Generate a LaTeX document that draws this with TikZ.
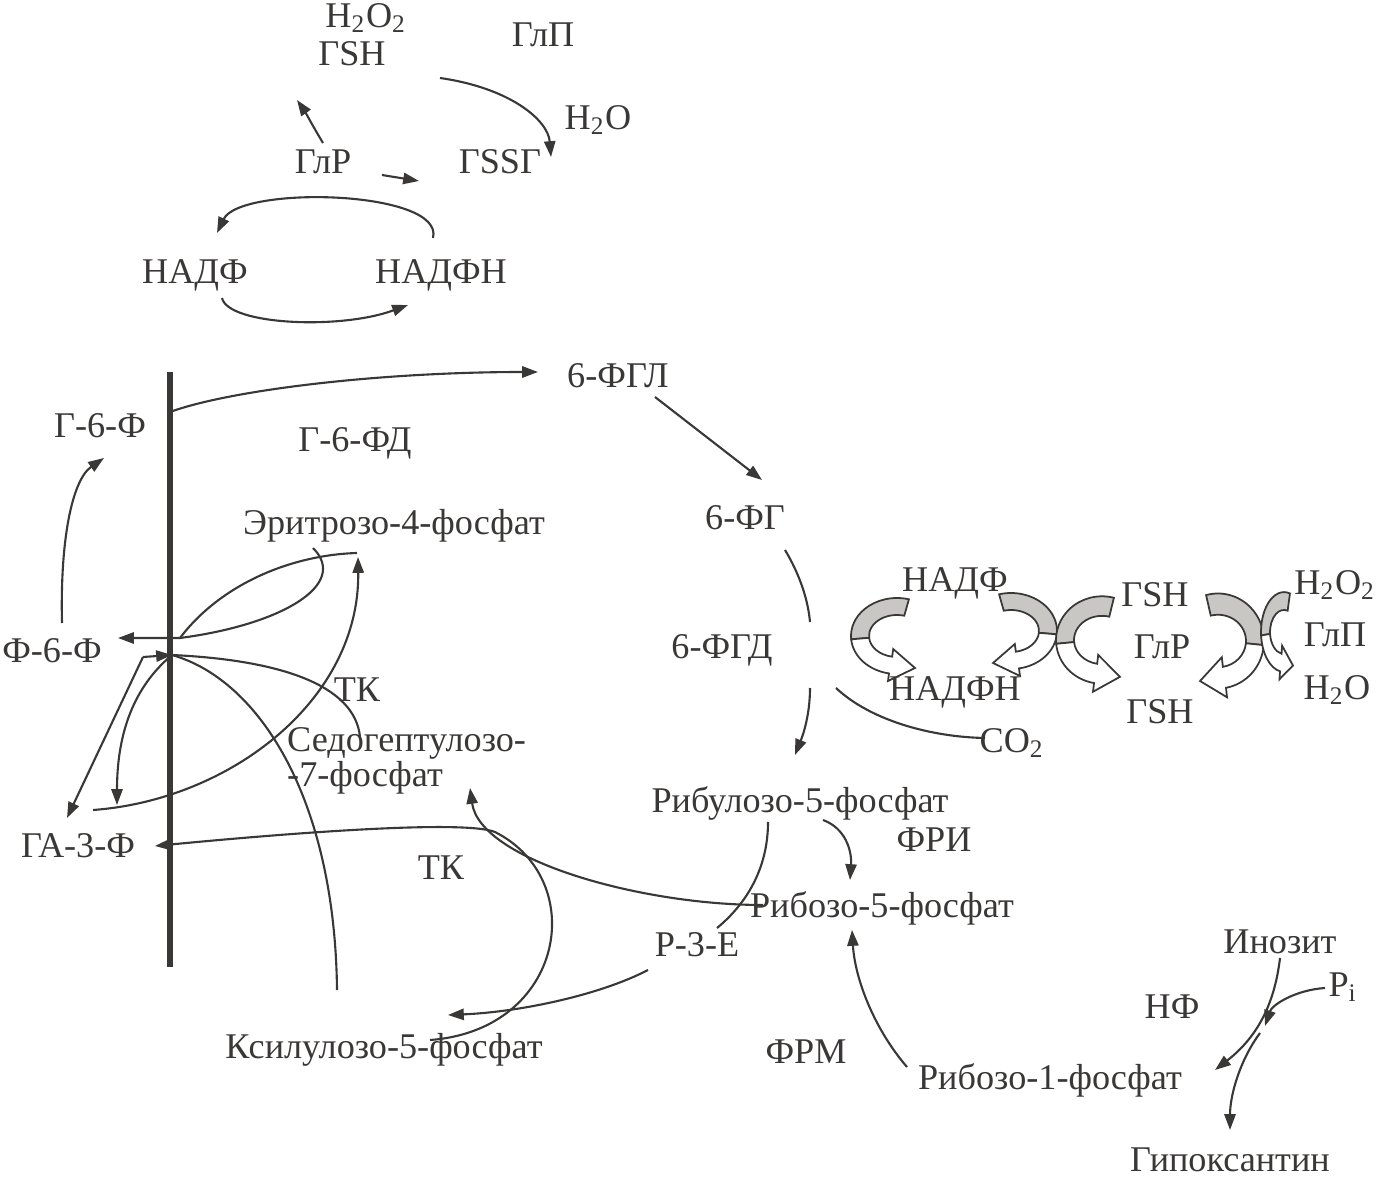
\documentclass[tikz,border=0pt]{standalone}
\usepackage{fontspec}
\setmainfont{Liberation Serif}
\usetikzlibrary{arrows.meta}
\definecolor{ink}{HTML}{3A3836}
\definecolor{band}{HTML}{C9C7C4}
\tikzset{
  txt/.style={text=ink, font=\fontsize{10.3}{12}\selectfont, inner sep=1pt},
  ln/.style={draw=ink, line width=0.6pt},
  arr/.style={ln, -{Triangle[length=4.5pt, width=3.2pt]}},
  gbar/.style={draw=ink, line width=1.5pt},
  ribbon/.pic={
    \filldraw[draw=ink, fill=band, line width=0.5pt]
      (285:46 and 38) arc[start angle=285, end angle=175, x radius=46, y radius=38]
      -- (175:28 and 21) arc[start angle=175, end angle=285, x radius=28, y radius=21] -- cycle;
    \filldraw[draw=ink, fill=white, line width=0.5pt]
      (175:46 and 38) arc[start angle=175, end angle=100, x radius=46, y radius=38]
      -- (-9,45) -- (18,32) -- (-3.8,13) -- (100:28 and 21)
      arc[start angle=100, end angle=175, x radius=28, y radius=21] -- cycle;
  }
}

\begin{document}
\begin{tikzpicture}[x=0.1mm, y=-0.1mm]
  \useasboundingbox (0,0) rectangle (1390,1180);

  % glutathione cycle, top
  \node[txt] (h2o2a) at (366,18) {H\textsubscript{2}O\textsubscript{2}};
  \node[txt] (gsha) at (352,54) {ГSH};
  \node[txt] (glpa) at (543,35) {ГлП};
  \node[txt] (h2oa) at (598,120) {H\textsubscript{2}O};
  \node[txt] (glra) at (323,162) {ГлР};
  \node[txt] (gssg) at (500,162) {ГSSГ};
  \node[txt] (nadpa) at (195,275) {НАДФ};
  \node[txt] (nadpha) at (441,275) {НАДФН};

  \coordinate (gshout) at (440,78);
  \coordinate (gssgin) at (551,157);
  \coordinate (glrup) at (323,143);
  \coordinate (gshin) at (297,100);
  \coordinate (glrr) at (382,175);
  \coordinate (gssgl) at (419,181);
  \coordinate (nadphup) at (433,238);
  \coordinate (nadpup) at (217,233);
  \coordinate (nadpdn) at (222,298);
  \coordinate (nadphdn) at (408,305);

  \draw[arr] (gshout) .. controls (510,88) and (548,120) .. (gssgin);
  \draw[arr] (glrup) .. controls (314,128) and (304,110) .. (gshin);
  \draw[arr] (glrr) -- (gssgl);
  \draw[arr] (nadphup) .. controls (445,190) and (240,185) .. (nadpup);
  \draw[arr] (nadpdn) .. controls (228,325) and (340,330) .. (nadphdn);

  % membrane bar and hexose side
  \coordinate (barTop) at (170,372);
  \coordinate (barBot) at (170,967);
  \draw[gbar] (barTop) -- (barBot);

  \node[txt] (g6p) at (100,426) {Г-6-Ф};
  \node[txt] (g6pd) at (355,443) {Г-6-ФД};
  \node[txt] (fgl) at (618,376) {6-ФГЛ};
  \node[txt] (e4p) at (394,526) {Эритрозо-4-фосфат};
  \node[txt] (f6p) at (52,651) {Ф-6-Ф};
  \node[txt] (tka) at (357,690) {ТК};
  \node[txt, anchor=west, align=left] (s7p) at (283,761) {Седогептулозо-\\[-2pt]-7-фосфат};
  \node[txt] (ga3p) at (78,846) {ГА-3-Ф};
  \node[txt] (tkb) at (441,868) {ТК};
  \node[txt] (xylu) at (384,1050) {Ксилулозо-5-фосфат};

  \coordinate (barOut) at (170,412);
  \coordinate (fglin) at (538,372);
  \coordinate (f6pup) at (62,623);
  \coordinate (g6pin) at (104,458);
  \coordinate (hubA) at (180,638);
  \coordinate (f6pin) at (118,638);
  \coordinate (e4pl) at (357,553);
  \coordinate (loopTip) at (313,548);
  \coordinate (ga3pl) at (93,810);
  \coordinate (e4pin) at (358,557);
  \coordinate (hubB) at (172,655);
  \coordinate (kink) at (143,657);
  \coordinate (dropEnd) at (117,805);
  \coordinate (ga3pin) at (67,818);
  \coordinate (s7ptop) at (360,737);
  \coordinate (xylutop) at (337,990);
  \coordinate (xylur) at (430,1040);
  \coordinate (tkturn) at (495,832);
  \coordinate (ga3pr) at (155,846);

  \draw[arr] (barOut) .. controls (230,390) and (380,372) .. (fglin);
  \draw[arr] (f6pup) .. controls (60,540) and (72,480) .. (g6pin);
  \draw[arr] (e4pl) .. controls (290,555) and (220,585) .. (hubA) -- (f6pin);
  \draw[ln] (hubA) .. controls (280,625) and (350,585) .. (loopTip);
  \draw[arr] (ga3pl) .. controls (230,800) and (360,700) .. (e4pin);
  \draw[arr] (hubB) .. controls (130,690) and (117,740) .. (dropEnd);
  \draw[arr] (kink) -- (hubB);
  \draw[arr] (kink) -- (ga3pin);
  \draw[ln] (hubB) .. controls (280,660) and (355,685) .. (s7ptop);
  \draw[ln] (hubB) .. controls (260,680) and (335,800) .. (xylutop);
  \draw[arr] (xylur) .. controls (565,1030) and (590,880) .. (tkturn)
             .. controls (465,820) and (300,832) .. (ga3pr);

  % oxidative branch
  \node[txt] (fg) at (745,518) {6-ФГ};
  \node[txt] (fgd) at (722,650) {6-ФГД};
  \node[txt] (co2) at (1012,743) {CO\textsubscript{2}};
  \node[txt] (ribu) at (800,803) {Рибулозо-5-фосфат};
  \node[txt] (fri) at (934,840) {ФРИ};
  \node[txt] (rib5) at (882,908) {Рибозо-5-фосфат};
  \node[txt] (r3e) at (697,945) {Р-3-Е};
  \node[txt] (frm) at (806,1052) {ФРМ};
  \node[txt] (rib1) at (1050,1080) {Рибозо-1-фосфат};
  \node[txt] (inoz) at (1280,942) {Инозит};
  \node[txt] (pi) at (1343,987) {P\textsubscript{i}};
  \node[txt] (nf) at (1172,1007) {НФ};
  \node[txt] (hypo) at (1230,1160) {Гипоксантин};

  \coordinate (fglout) at (655,397);
  \coordinate (fgin) at (762,480);
  \coordinate (fgout) at (785,550);
  \coordinate (fgdin) at (810,622);
  \coordinate (fgdout) at (810,688);
  \coordinate (ribuin) at (795,755);
  \coordinate (co2out) at (836,688);
  \coordinate (co2in) at (985,738);
  \coordinate (ribur) at (823,820);
  \coordinate (rib5top) at (850,880);
  \coordinate (ribul) at (768,822);
  \coordinate (r3etop) at (717,928);
  \coordinate (r3eout) at (648,970);
  \coordinate (xyluin) at (448,1015);
  \coordinate (rib5l) at (763,905);
  \coordinate (s7pin) at (470,788);
  \coordinate (rib1out) at (907,1067);
  \coordinate (rib5bot) at (852,930);
  \coordinate (inozout) at (1280,958);
  \coordinate (rib1in) at (1215,1070);
  \coordinate (piout) at (1325,988);
  \coordinate (piin) at (1265,1026);
  \coordinate (hypoout) at (1260,1033);
  \coordinate (hypoin) at (1230,1130);

  \draw[arr] (fglout) -- (fgin);
  \draw[ln] (fgout) .. controls (800,575) and (808,600) .. (fgdin);
  \draw[arr] (fgdout) .. controls (810,715) and (803,735) .. (ribuin);
  \draw[ln] (co2out) .. controls (870,720) and (930,737) .. (co2in);
  \draw[arr] (ribur) .. controls (845,828) and (852,850) .. (rib5top);
  \draw[ln] (ribul) .. controls (768,870) and (745,905) .. (r3etop);
  \draw[arr] (r3eout) .. controls (600,995) and (520,1012) .. (xyluin);
  \draw[arr] (rib5l) .. controls (640,905) and (480,860) .. (s7pin);
  \draw[arr] (rib1out) .. controls (875,1030) and (855,980) .. (rib5bot);
  \draw[arr] (inozout) .. controls (1275,1000) and (1260,1035) .. (rib1in);
  \draw[arr] (piout) .. controls (1295,990) and (1272,1005) .. (piin);
  \draw[arr] (hypoout) .. controls (1240,1060) and (1230,1095) .. (hypoin);

  % coupled reactions on the right
  \pic at (897,636) {ribbon};
  \pic[xscale=-1] at (1011,631) {ribbon};
  \pic[yscale=1.15] at (1102,640) {ribbon};
  \pic[xscale=-1, yscale=1.25] at (1218,641) {ribbon};
  \pic[xscale=0.5, yscale=1.05] at (1284,632) {ribbon};

  \node[txt] (nadpb) at (955,583) {НАДФ};
  \node[txt] (gshb) at (1155,595) {ГSH};
  \node[txt] (h2o2b) at (1335,585) {H\textsubscript{2}O\textsubscript{2}};
  \node[txt] (glrb) at (1162,647) {ГлР};
  \node[txt] (glpb) at (1335,635) {ГлП};
  \node[txt] (nadphb) at (955,692) {НАДФН};
  \node[txt] (gshc) at (1160,712) {ГSH};
  \node[txt] (h2ob) at (1337,690) {H\textsubscript{2}O};
\end{tikzpicture}
\end{document}
